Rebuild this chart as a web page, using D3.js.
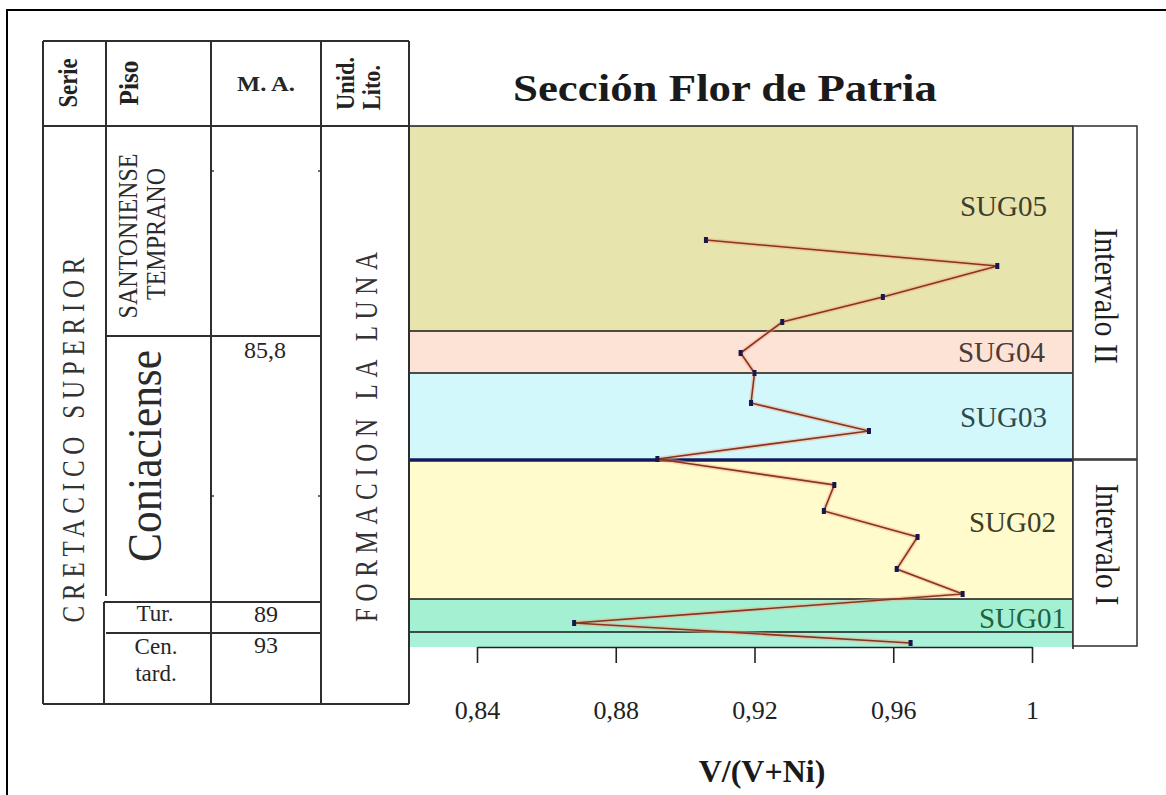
<!DOCTYPE html>
<html>
<head>
<meta charset="utf-8">
<script src="https://cdn.jsdelivr.net/npm/d3@7"></script>
<style>
  body { margin: 0; background: #fff; }
  svg { display: block; }
  text { font-family: "Liberation Serif", "Times New Roman", serif; }
</style>
</head>
<body>
<svg id="chart" width="1166" height="795"></svg>
<script>
// Samples of the Flor de Patria section: stratigraphic height (m above base) and V/(V+Ni)
const sampleHeight = [40.7, 38.1, 35.0, 32.5, 29.4, 27.4, 24.4, 21.6, 18.8, 16.2, 13.6, 11.0, 7.8, 5.3, 2.4, 0.4];
const ratioV       = [0.906, 0.990, 0.957, 0.928, 0.916, 0.920, 0.919, 0.953, 0.892, 0.943, 0.940, 0.967, 0.961, 0.980, 0.868, 0.965];

// Sequence units (top / base heights in m)
const unitNames = ["SUG05", "SUG04", "SUG03", "SUG02", "SUG01", ""];
const unitTop   = [52.1, 31.6, 27.4, 18.7, 4.8, 1.5];
const unitBase  = [31.6, 27.4, 18.7, 4.8, 1.5, 0];
const unitLabelHeight = [44.1, 29.5, 23.0, 12.5, 2.9];

// Intervals
const intervalNames = ["Intervalo II", "Intervalo I"];
const intervalTop   = [52.1, 18.7];
const intervalBase  = [18.7, 0];

// Axis
const xTicks = [0.84, 0.88, 0.92, 0.96, 1];

// Styling
const unitFill  = ["#e7e4ae", "#fde2d6", "#d3f8fc", "#fffbcd", "#a3f1d2", "#a9f1d8"];
const unitInk   = ["#3e3e2e", "#4b3b36", "#2d4b4f", "#3e3e24", "#1f6242"];
const unitLabelRight = [1047, 1045, 1047, 1056, 1066];

const svg = d3.select("#chart");

// Page frame
svg.append("rect").attr("x", 7).attr("y", 10).attr("width", 1175).attr("height", 800)
  .attr("fill", "none").attr("stroke", "#000").attr("stroke-width", 2);

// ---------- Plot ----------
const plotL = 410, plotR = 1073, plotT = 126, plotB = 647;
const x = d3.scaleLinear().domain([0.84, 1]).range([477, 1032]);
const y = d3.scaleLinear().domain([0, 52.1]).range([plotB, plotT]);

const bands = svg.append("g");
bands.selectAll("rect").data(unitNames).join("rect")
  .attr("x", plotL).attr("width", plotR - plotL)
  .attr("y", (d, i) => y(unitTop[i]))
  .attr("height", (d, i) => y(unitBase[i]) - y(unitTop[i]))
  .attr("fill", (d, i) => unitFill[i]);

// unit boundaries
const bounds = [52.1, 31.6, 27.4, 4.8, 1.5];
svg.append("g").selectAll("line").data(bounds).join("line")
  .attr("x1", plotL).attr("x2", plotR)
  .attr("y1", d => y(d)).attr("y2", d => y(d))
  .attr("stroke", "#161616").attr("stroke-width", 1.7);
// interval boundary
svg.append("line").attr("x1", plotL).attr("x2", plotR)
  .attr("y1", y(18.7)).attr("y2", y(18.7))
  .attr("stroke", "#121a5c").attr("stroke-width", 3.6);

// right border of plot
svg.append("line").attr("x1", plotR).attr("x2", plotR).attr("y1", plotT).attr("y2", plotB + 2)
  .attr("stroke", "#222").attr("stroke-width", 1.6);

// unit labels
svg.append("g").selectAll("text").data(unitNames.slice(0, 5)).join("text")
  .attr("x", (d, i) => unitLabelRight[i])
  .attr("y", (d, i) => y(unitLabelHeight[i]))
  .attr("text-anchor", "end").attr("dominant-baseline", "central")
  .attr("font-size", 29).attr("fill", (d, i) => unitInk[i])
  .text(d => d);

// interval column
const intL = plotR, intR = 1137;
const ints = svg.append("g");
ints.selectAll("rect").data(intervalNames).join("rect")
  .attr("x", intL).attr("width", intR - intL)
  .attr("y", (d, i) => y(intervalTop[i]))
  .attr("height", (d, i) => y(intervalBase[i]) - y(intervalTop[i]) - 1)
  .attr("fill", "#fff").attr("stroke", "#3a3a3a").attr("stroke-width", 1.6);
ints.selectAll("text").data(intervalNames).join("text")
  .attr("transform", (d, i) => `translate(1107,${(y(intervalTop[i]) + y(intervalBase[i])) / 2 - (i === 0 ? -3 : 9)}) scale(1.15,1) rotate(90)`)
  .attr("text-anchor", "middle").attr("dominant-baseline", "central")
  .attr("font-size", (d, i) => i === 0 ? 30 : 29).attr("fill", "#1e1e1e")
  .text(d => d);

// data line
const line = d3.line().x(d => x(d[0])).y(d => y(d[1]));
const pts = ratioV.map((v, i) => [v, sampleHeight[i]]);
svg.append("path").datum(pts).attr("d", line)
  .attr("fill", "none").attr("stroke", "#f3a487").attr("stroke-opacity", 0.45).attr("stroke-width", 4.5);
svg.append("path").datum(pts).attr("d", line)
  .attr("fill", "none").attr("stroke", "#86351d").attr("stroke-width", 1.6);
svg.append("g").selectAll("rect").data(pts).join("rect")
  .attr("x", d => x(d[0]) - 2).attr("y", d => y(d[1]) - 3)
  .attr("width", 4).attr("height", 6).attr("fill", "#17174c");

// x axis
const locale = d3.formatLocale({ decimal: ",", thousands: ".", grouping: [3], currency: ["", ""] });
const fmt = locale.format("~g");
const axis = svg.append("g").attr("transform", `translate(0,${plotB})`)
  .call(d3.axisBottom(x).tickValues(xTicks).tickFormat(fmt).tickSize(16).tickSizeOuter(0).tickPadding(38));
axis.select(".domain").attr("stroke", "#222").attr("stroke-width", 1.6);
axis.selectAll(".tick line").attr("stroke", "#222").attr("stroke-width", 1.6);
axis.selectAll(".tick text").attr("font-family", "Liberation Serif, serif").attr("font-size", 26).attr("fill", "#222");

svg.append("text").attr("x", 762).attr("y", 771)
  .attr("text-anchor", "middle").attr("dominant-baseline", "central")
  .attr("font-size", 32).attr("font-weight", "bold").attr("fill", "#1a1a1a")
  .text("V/(V+Ni)");

// title
svg.append("text").attr("x", 725).attr("y", 88)
  .attr("text-anchor", "middle").attr("dominant-baseline", "central")
  .attr("font-size", 38).attr("font-weight", "bold").attr("fill", "#1a1a1a")
  .attr("textLength", 424).attr("lengthAdjust", "spacingAndGlyphs")
  .text("Sección Flor de Patria");

// ---------- Stratigraphic column ----------
const tb = svg.append("g");
const stroke = "#2e2e2e";
const seg = (x1, y1, x2, y2) => tb.append("line").attr("x1", x1).attr("y1", y1).attr("x2", x2).attr("y2", y2)
  .attr("stroke", stroke).attr("stroke-width", 2);

seg(43, 41, 409, 41);
seg(43, 126, 410, 126);
seg(43, 704, 409, 704);
[43, 211, 321, 409].forEach(cx => seg(cx, 41, cx, 704));
// Piso column edge, slightly offset below the Coniaciense cell
seg(106, 41, 106, 596);
seg(104, 602, 104, 704);
seg(106, 336, 321, 336);
seg(104, 602, 321, 602);
seg(106, 633, 321, 633);
// small marks on M.A. column edges
[[211, 171, 214], [321, 171, 318], [211, 496, 214], [321, 496, 318]].forEach(m => seg(m[0], m[1], m[2], m[1]).attr("stroke-width", 1.4));

const vtext = (str, cx, cy, size, opts = {}) => {
  const t = tb.append("text")
    .attr("transform", `translate(${cx},${cy}) scale(${opts.sx || 1},1) rotate(${opts.rot || -90})`)
    .attr("text-anchor", opts.anchor || "middle").attr("dominant-baseline", "central")
    .attr("font-size", size).attr("fill", opts.fill || "#222")
    .attr("font-weight", opts.bold ? "bold" : "normal")
    .text(str);
  if (opts.len) t.attr("textLength", opts.len).attr("lengthAdjust", opts.adjust || "spacingAndGlyphs");
  return t;
};
const htext = (str, cx, cy, size, opts = {}) => tb.append("text")
  .attr("x", cx).attr("y", cy).attr("text-anchor", "middle").attr("dominant-baseline", "central")
  .attr("font-size", size).attr("fill", opts.fill || "#262626")
  .attr("font-weight", opts.bold ? "bold" : "normal")
  .text(str);

// header
vtext("Serie", 68, 83, 22, { bold: true, sx: 1.2, len: 49 });
vtext("Piso", 129, 83, 22, { bold: true, sx: 1.2, len: 45 });
htext("M. A.", 266, 84, 21, { bold: true }).attr("textLength", 58).attr("lengthAdjust", "spacingAndGlyphs");
vtext("Unid.", 346, 110, 22, { bold: true, sx: 1.1, anchor: "start", len: 53 });
vtext("Lito.", 372, 110, 22, { bold: true, sx: 1.1, anchor: "start", len: 45 });

// body
vtext("CRETACICO SUPERIOR", 72.5, 440, 25, { sx: 1.3, len: 365, adjust: "spacing", fill: "#333" });
vtext("SANTONIENSE", 128.5, 236, 24, { sx: 1.1, fill: "#2a2a2a" });
vtext("TEMPRANO", 156, 234, 24, { sx: 1.1, fill: "#2a2a2a" });
vtext("Coniaciense", 145, 456, 42, { sx: 1.15, fill: "#2a2a2a", len: 212 });
vtext("FORMACION LA LUNA", 366, 437, 25, { sx: 1.3, len: 370, adjust: "spacing", fill: "#333" });

htext("85,8", 265, 350, 24);
htext("Tur.", 155, 613, 23);
htext("89", 266, 614, 24);
htext("Cen.", 156, 646, 23);
htext("93", 266, 645, 24);
htext("tard.", 156, 673, 23);
</script>
</body>
</html>
